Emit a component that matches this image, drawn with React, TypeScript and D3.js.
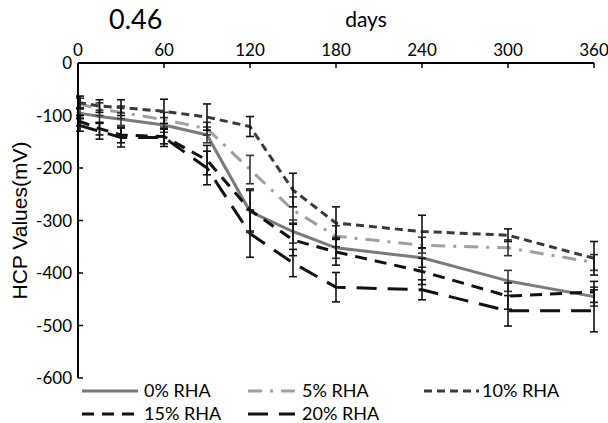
import React from "react";
import * as d3 from "d3";

// Measurement days
const days = [0, 15, 30, 60, 90, 120, 150, 180, 240, 300, 360];

// HCP values (mV) per RHA content
const rha0 = [-95, -102, -107, -118, -137, -283, -321, -352, -371, -415, -445];
const rha5 = [-77, -88, -94, -108, -125, -203, -280, -330, -347, -352, -380];
const rha10 = [-75, -82, -85, -92, -103, -121, -242, -305, -321, -328, -372];
const rha15 = [-110, -125, -137, -140, -185, -280, -337, -360, -397, -444, -436];
const rha20 = [-118, -130, -142, -142, -200, -325, -381, -427, -432, -472, -472];

// Error bar half-widths (mV)
const err0 = [10, 12, 12, 14, 15, 40, 22, 20, 18, 20, 18];
const err5 = [10, 12, 12, 14, 12, 27, 25, 20, 15, 15, 15];
const err10 = [12, 12, 15, 23, 25, 19, 32, 31, 31, 12, 32];
const err15 = [10, 12, 15, 14, 28, 40, 30, 25, 25, 25, 20];
const err20 = [12, 15, 18, 17, 32, 45, 26, 28, 19, 29, 40];

const seriesNames = ["0% RHA", "5% RHA", "10% RHA", "15% RHA", "20% RHA"];
const xTicks = [0, 60, 120, 180, 240, 300, 360];
const yTicks = [0, -100, -200, -300, -400, -500, -600];

const styles = [
  { color: "#7a7a7a", dash: "", width: 3 },
  { color: "#a0a0a0", dash: "14,8,3,8", width: 3 },
  { color: "#3a3a3a", dash: "8,5", width: 3 },
  { color: "#111111", dash: "12,8", width: 3 },
  { color: "#111111", dash: "20,11", width: 3 },
];

const series = [rha0, rha5, rha10, rha15, rha20];
const errors = [err0, err5, err10, err15, err20];

const W = 608;
const H = 423;
const x = d3.scaleLinear().domain([0, 360]).range([78, 594]);
const y = d3.scaleLinear().domain([0, -600]).range([63, 378]);

const tickFont = "Lato, 'Open Sans', sans-serif";

export default function App() {
  const line = d3
    .line<number>()
    .x((_, i) => x(days[i]))
    .y((v) => y(v));

  const legendItems = [
    { i: 0, sx: 82, len: 56, tx: 144, ly: 391 },
    { i: 1, sx: 248, len: 47, tx: 302, ly: 391 },
    { i: 2, sx: 424, len: 55, tx: 482, ly: 391 },
    { i: 3, sx: 82, len: 56, tx: 144, ly: 414 },
    { i: 4, sx: 248, len: 47, tx: 302, ly: 414 },
  ];

  return (
    <svg
      width={W}
      height={H}
      style={{ position: "absolute", left: 0, top: 0, background: "#fff" }}
    >
      <rect width={W} height={H} fill="#fff" />

      {/* series lines */}
      {series.map((vals, s) => (
        <path
          key={"l" + s}
          d={line(vals) || ""}
          fill="none"
          stroke={styles[s].color}
          strokeWidth={styles[s].width}
          strokeDasharray={styles[s].dash}
        />
      ))}

      {/* error bars */}
      {series.map((vals, s) => (
        <g key={"e" + s} stroke={s < 2 ? "#333" : "#111"} strokeWidth={1.6}>
          {vals.map((v, i) => {
            const cx = x(days[i]) + (i === 0 ? 2 : 0);
            const top = y(v + errors[s][i]);
            const bot = y(v - errors[s][i]);
            return (
              <g key={i}>
                <line x1={cx} x2={cx} y1={top} y2={bot} />
                <line x1={cx - 4} x2={cx + 4} y1={top} y2={top} />
                <line x1={cx - 4} x2={cx + 4} y1={bot} y2={bot} />
              </g>
            );
          })}
        </g>
      ))}

      {/* x axis (top) */}
      <line x1={x(0)} x2={x(360)} y1={y(0)} y2={y(0)} stroke="#000" strokeWidth={2} />
      {xTicks.map((t) => (
        <g key={"xt" + t}>
          <line x1={x(t)} x2={x(t)} y1={y(0)} y2={y(0) + 5} stroke="#000" strokeWidth={1.5} />
          <text
            x={x(t)}
            y={56}
            textAnchor="middle"
            fontFamily={tickFont}
            fontSize={17}
            fill="#000"
          >
            {t}
          </text>
        </g>
      ))}

      {/* y axis */}
      <line x1={x(0)} x2={x(0)} y1={y(0)} y2={y(-600)} stroke="#000" strokeWidth={2} />
      {yTicks.map((t) => (
        <g key={"yt" + t}>
          <line x1={x(0)} x2={x(0) + 5} y1={y(t)} y2={y(t)} stroke="#000" strokeWidth={1.5} />
          <text
            x={72}
            y={y(t) + 6}
            textAnchor="end"
            fontFamily={tickFont}
            fontSize={17}
            fill="#000"
          >
            {t}
          </text>
        </g>
      ))}

      {/* titles */}
      <text x={109} y={29} fontFamily={tickFont} fontSize={27} fill="#000">
        0.46
      </text>
      <text x={366} y={27} textAnchor="middle" fontFamily={tickFont} fontSize={21} fill="#000">
        days
      </text>
      <text
        transform={`translate(27, ${(y(0) + y(-600)) / 2}) rotate(-90)`}
        textAnchor="middle"
        fontFamily="'Liberation Sans', Arial, sans-serif"
        fontSize={21}
        fill="#000"
      >
        HCP Values(mV)
      </text>

      {/* legend */}
      {legendItems.map(({ i, sx, len, tx, ly }) => (
        <g key={"lg" + i}>
          <line
            x1={sx}
            x2={sx + len}
            y1={ly}
            y2={ly}
            stroke={styles[i].color}
            strokeWidth={3}
            strokeDasharray={styles[i].dash}
          />
          <text x={tx} y={ly + 6} fontFamily={tickFont} fontSize={18} fill="#000">
            {seriesNames[i]}
          </text>
        </g>
      ))}
    </svg>
  );
}
